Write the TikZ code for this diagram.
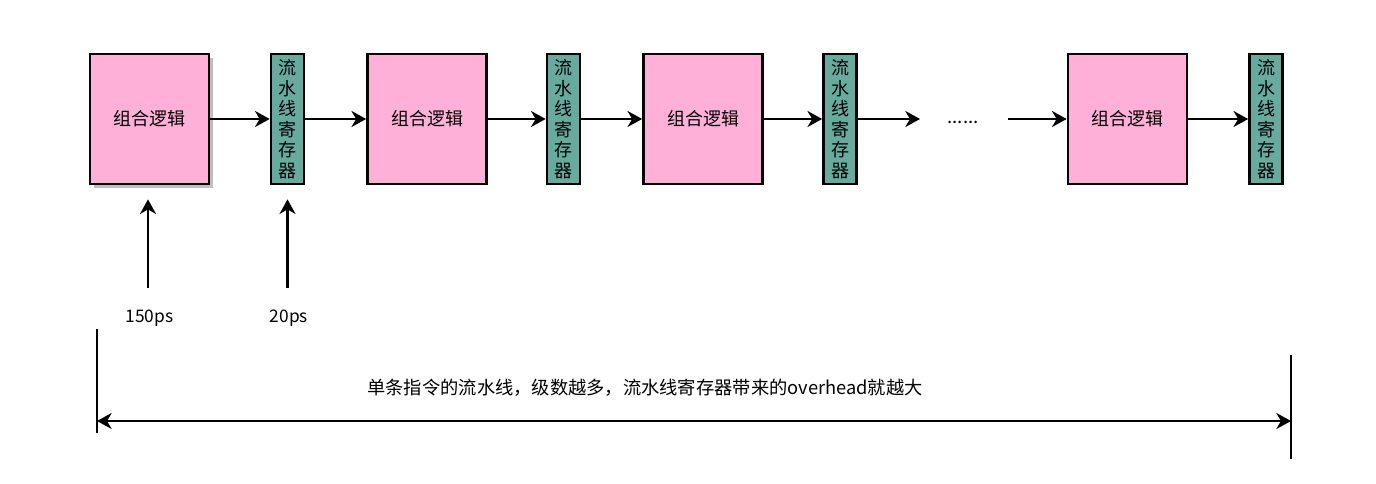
\documentclass[tikz,border=0pt]{standalone}
\usepackage{fontspec}
\setmainfont{Noto Sans CJK SC}
\usetikzlibrary{arrows.meta,positioning,calc,shadows}
\definecolor{logicpink}{HTML}{FFB0D8}
\definecolor{regteal}{HTML}{67AB9F}
\tikzset{logic/.style={draw=black,line width=2pt,fill=logicpink,minimum width=89.25pt,minimum height=97.5pt,inner sep=0pt,font=\fontsize{13.5}{16}\selectfont},
  reg/.style={draw=black,line width=2pt,fill=regteal,minimum width=24.75pt,minimum height=97.5pt,inner sep=0pt,align=center,font=\fontsize{13.5}{15.4}\selectfont},
  flow/.style={-{Stealth[length=11pt,width=12pt,inset=3.5pt]},line width=1.7pt},
  span/.style={{Stealth[length=11pt,width=12pt,inset=3.5pt]}-{Stealth[length=11pt,width=12pt,inset=3.5pt]},line width=1.7pt},
  labeltext/.style={font=\fontsize{13}{15}\selectfont,inner sep=0pt}}
\newcommand{\regtext}{流\\水\\线\\寄\\存\\器}

\begin{document}
\begin{tikzpicture}[x=0.75pt,y=-0.75pt]
\useasboundingbox (0,0) rectangle (1376,484);
% pipeline stages
\node[logic,drop shadow={shadow xshift=3pt,shadow yshift=-3pt,fill=black!25,opacity=1}] (logic1) at (149.5,119) {组合逻辑};
\node[reg] (reg1) at (287.5,119) {\regtext};
\node[logic] (logic2) at (427,119) {组合逻辑};
\node[reg] (reg2) at (563.5,119) {\regtext};
\node[logic] (logic3) at (703,119) {组合逻辑};
\node[reg] (reg3) at (840,119) {\regtext};
\node[labeltext,font=\fontsize{14}{16}\selectfont] (dots) at (963,122) {......};
\node[logic] (logic4) at (1127.5,119) {组合逻辑};
\node[reg] (reg4) at (1266,119) {\regtext};
\coordinate (gapa) at (920,119);
\coordinate (gapb) at (1008,119);
\draw[flow] (logic1)--(reg1); \draw[flow] (reg1)--(logic2);
\draw[flow] (logic2)--(reg2); \draw[flow] (reg2)--(logic3);
\draw[flow] (logic3)--(reg3); \draw[flow] (reg3)--(gapa);
\draw[flow] (gapb)--(logic4); \draw[flow] (logic4)--(reg4);
% delays
\node[labeltext] (t150) at (149.5,318) {150ps};
\node[labeltext] (t20) at (289,318) {20ps};
\coordinate (tick1) at (148,288);
\coordinate (tick2) at (287.5,288);
\draw[flow,shorten >=10.5pt] (tick1)--(tick1 |- logic1.south);
\draw[flow,shorten >=10.5pt] (tick2)--(tick2 |- reg1.south);
% overall span
\coordinate (bltop) at (97,329); \coordinate (blbot) at (97,433);
\coordinate (brtop) at (1291,355); \coordinate (brbot) at (1291,459);
\coordinate (spanl) at (97,421); \coordinate (spanr) at (1291,421);
\draw[line width=1.7pt] (bltop)--(blbot);
\draw[line width=1.7pt] (brtop)--(brbot);
\draw[span] (spanl)--(spanr);
\node[labeltext,font=\fontsize{13.7}{16}\selectfont] (note) at (645,388) {单条指令的流水线，级数越多，流水线寄存器带来的overhead就越大};
\end{tikzpicture}
\end{document}
